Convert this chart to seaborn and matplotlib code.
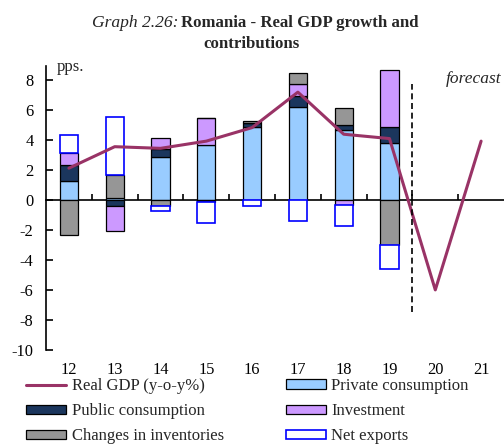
import numpy as np
import pandas as pd
import matplotlib
matplotlib.use("Agg")
import matplotlib.pyplot as plt
import seaborn as sns

# ---- data ----
years = ["12", "13", "14", "15", "16", "17", "18", "19", "20", "21"]
bar_years = ["12", "13", "14", "15", "16", "17", "18", "19"]
private = [1.23, 0.10, 2.82, 3.65, 4.81, 6.20, 4.63, 3.80]
public = [1.05, -0.45, 0.54, -0.15, 0.30, 0.69, 0.34, 1.03]
investment = [0.85, -1.60, 0.74, 1.81, 0.00, 0.78, -0.34, 3.83]
inventories = [-2.35, 1.55, -0.40, 0.00, 0.15, 0.78, 1.16, -2.98]
net_exports = [1.20, 3.83, -0.36, -1.41, -0.40, -1.41, -1.39, -1.61]
gdp = [2.10, 3.53, 3.42, 3.90, 4.80, 7.16, 4.36, 4.07, -6.00, 3.90]
y_ticks = [-10, -8, -6, -4, -2, 0, 2, 4, 6, 8]

sns.set_style("white")
plt.rcParams["font.family"] = ["Liberation Serif", "DejaVu Serif"]
plt.rcParams["axes.unicode_minus"] = False

fig = plt.figure(figsize=(5.04, 4.46), dpi=100)
ax = fig.add_axes([46 / 504, 1 - 350 / 446, 458 / 504, 284 / 446])

series = [
    ("Private consumption", private, "#99CCFF", "black", 0.9),
    ("Public consumption", public, "#1B365D", "black", 0.9),
    ("Investment", investment, "#CC99FF", "black", 0.9),
    ("Changes in inventories", inventories, "#969696", "black", 0.9),
    ("Net exports", net_exports, "white", "#0000FF", 1.2),
]
pos = np.zeros(len(bar_years))
neg = np.zeros(len(bar_years))
for name, vals, fc, ec, lw in series:
    v = np.array(vals, dtype=float)
    bottom = np.where(v >= 0, pos, neg)
    df = pd.DataFrame({"year": bar_years, "value": v})
    sns.barplot(data=df, x="year", y="value", order=years, bottom=bottom,
                color=fc, edgecolor=ec, linewidth=lw, width=0.4,
                saturation=1, errorbar=None, ax=ax, label=name)
    pos += np.where(v >= 0, v, 0)
    neg += np.where(v < 0, v, 0)

gdf = pd.DataFrame({"year": years, "gdp": gdp})
sns.lineplot(data=gdf, x="year", y="gdp", color="#993366", linewidth=2.2,
             ax=ax, label="Real GDP (y-o-y%)", sort=False)

ymin, ymax = -10, 8.9
ax.set_ylim(ymin, ymax)
ax.set_xlim(-0.5, 9.5)
ax.set_yticks(y_ticks)
ax.set_yticklabels([str(t) for t in y_ticks])
ax.set_xticks(range(len(years)))
ax.set_xticklabels(years)
ax.set_xlabel("")
ax.set_ylabel("")
for s in ["top", "right", "bottom"]:
    ax.spines[s].set_visible(False)
ax.spines["left"].set_color("black")
ax.spines["left"].set_linewidth(1.2)
ax.tick_params(axis="y", direction="in", length=5, width=1.2, pad=9,
               labelsize=11.8, left=True, colors="black")
ax.tick_params(axis="x", length=0, pad=9, labelsize=11.8, colors="black")

# zero axis with ticks between categories
zero_frac = (0 - ymin) / (ymax - ymin)
sec = ax.secondary_xaxis(zero_frac)
sec.set_xticks(np.arange(0.5, 9.5, 1.0))
sec.tick_params(direction="out", length=4, width=1.2, labeltop=False,
                labelbottom=False, colors="black")
for s in ["top", "bottom"]:
    sec.spines[s].set_linewidth(1.2)
    sec.spines[s].set_color("black")

# forecast separator
ax.vlines(7.5, -7.5, 7.7, colors="black", linewidth=1.2,
          linestyles=(0, (3.6, 2.2)))
ax.text(9.45, 7.76, "forecast", style="italic", ha="right", va="baseline",
        fontsize=12.5)
ax.text(-0.26, 8.6, "pps.", ha="left", va="baseline", fontsize=12)

# legend
h, l = ax.get_legend_handles_labels()
hd = dict(zip(l, h))
order = ["Real GDP (y-o-y%)", "Public consumption", "Changes in inventories",
         "Private consumption", "Investment", "Net exports"]
leg = ax.legend([hd[k] for k in order], order, ncol=2, frameon=False,
                loc="upper left", bbox_to_anchor=(26 / 504, 1 - 378 / 446),
                bbox_transform=fig.transFigure, fontsize=12.0,
                handlelength=2.4, handleheight=0.5, handletextpad=0.35,
                columnspacing=3.7, labelspacing=0.55, borderpad=0,
                borderaxespad=0)

# title
fig.text(178 / 504, 1 - 27 / 446, "Graph 2.26:", style="italic", ha="right",
         va="baseline", fontsize=12.6)
fig.text(181 / 504, 1 - 27 / 446, "Romania - Real GDP growth and",
         weight="bold", ha="left", va="baseline", fontsize=12.1)
fig.text(0.5, 1 - 48 / 446, "contributions", weight="bold", ha="center",
         va="baseline", fontsize=12.1)

fig.savefig("out.png", dpi=100)
